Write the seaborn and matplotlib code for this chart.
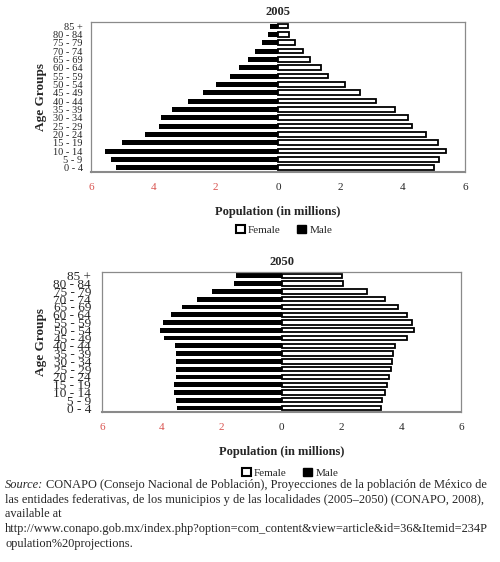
import numpy as np
import matplotlib
matplotlib.use("Agg")
import matplotlib.pyplot as plt
from matplotlib.patches import Patch
import seaborn as sns
import pandas as pd

# age groups, top of the pyramid first
age_groups = ["85 +", "80 - 84", "75 - 79", "70 - 74", "65 - 69", "60 - 64", "55 - 59",
              "50 - 54", "45 - 49", "40 - 44", "35 - 39", "30 - 34", "25 - 29",
              "20 - 24", "15 - 19", "10 - 14", "5 - 9", "0 - 4"]

male_2005 = [0.27, 0.32, 0.51, 0.73, 0.95, 1.25, 1.53, 1.98, 2.42, 2.89, 3.39, 3.76,
             3.82, 4.27, 5.00, 5.56, 5.35, 5.19]
female_2005 = [0.33, 0.36, 0.56, 0.80, 1.04, 1.38, 1.60, 2.14, 2.62, 3.14, 3.74, 4.18,
               4.30, 4.74, 5.13, 5.40, 5.17, 4.99]

male_2050 = [1.51, 1.59, 2.31, 2.84, 3.31, 3.71, 3.96, 4.07, 3.94, 3.57, 3.51, 3.51,
             3.51, 3.53, 3.59, 3.59, 3.51, 3.48]
female_2050 = [2.01, 2.04, 2.87, 3.46, 3.88, 4.18, 4.37, 4.44, 4.18, 3.81, 3.73, 3.69,
               3.65, 3.59, 3.53, 3.46, 3.36, 3.31]

xtick_vals = [-6, -4, -2, 0, 2, 4, 6]
xtick_labels = ["6", "4", "2", "0", "2", "4", "6"]

sns.set_theme(style="white")
plt.rcParams['font.family'] = ['Liberation Serif', 'DejaVu Serif']

red = "#d9534f"
spine_col = "#8a8a8a"

fig = plt.figure(figsize=(5, 5.62), dpi=100)
ax1 = fig.add_axes([0.182, 0.694, 0.748, 0.267])
ax2 = fig.add_axes([0.204, 0.267, 0.718, 0.249])


def pyramid(ax, male, female, title, ylab_size, ypad):
	df = pd.DataFrame({"age": age_groups, "male": -np.array(male), "female": female})
	sns.barplot(data=df, y="age", x="male", order=age_groups, orient="h", color="black",
				edgecolor="black", linewidth=0, width=0.62, ax=ax)
	sns.barplot(data=df, y="age", x="female", order=age_groups, orient="h", color="white",
				edgecolor="black", linewidth=1.3, width=0.56, ax=ax)
	ax.set_xlim(-6, 6)
	ax.set_ylim(len(age_groups) - 0.5, -0.5)
	ax.set_xticks(xtick_vals)
	ax.set_xticklabels(xtick_labels, fontsize=8)
	for lab, v in zip(ax.get_xticklabels(), xtick_vals):
		if v < 0:
			lab.set_color(red)
	ax.tick_params(axis="x", length=3, width=0.8, color=spine_col, direction="out", pad=5)
	ax.tick_params(axis="y", length=0, pad=ypad, labelsize=ylab_size)
	for s in ax.spines.values():
		s.set_visible(True)
		s.set_color(spine_col)
		s.set_linewidth(0.9)
	ax.spines["bottom"].set_linewidth(1.5)
	ax.set_ylabel("Age Groups", fontsize=9.5, fontweight="bold", labelpad=4)
	ax.set_xlabel("Population (in millions)", fontsize=9, fontweight="bold", labelpad=10)
	ax.set_title(title, fontsize=9, fontweight="bold", pad=5)
	ax.grid(False)


pyramid(ax1, male_2005, female_2005, "2005", 7.5, 6)
pyramid(ax2, male_2050, female_2050, "2050", 9.5, 8)

handles = [Patch(facecolor="white", edgecolor="black", linewidth=1.5, label="Female"),
		   Patch(facecolor="black", edgecolor="black", label="Male")]
for x, y in [(0.568, 1 - 230 / 562), (0.58, 1 - 473 / 562)]:
	fig.legend(handles=handles, loc="center", bbox_to_anchor=(x, y), ncol=2, frameon=False,
			   fontsize=8, handlelength=0.8, handleheight=0.8, handletextpad=0.3, columnspacing=1.5)

# source note
fs = 8.9
y0 = 1 - 485 / 562
dy = 14.7 / 562
r = fig.canvas.get_renderer()
t = fig.text(0.01, y0, "Source:", fontsize=fs, style="italic", va="center")
bb = t.get_window_extent(renderer=r)
fig.text(0.01 + (bb.width + 3) / 500, y0,
		 "CONAPO (Consejo Nacional de Población), Proyecciones de la población de México de",
		 fontsize=fs, va="center")
rest = ["las entidades federativas, de los municipios y de las localidades (2005\u20132050) (CONAPO, 2008),",
		"available at",
		"http://www.conapo.gob.mx/index.php?option=com_content&view=article&id=36&Itemid=234P",
		"opulation%20projections."]
for i, line in enumerate(rest):
	fig.text(0.01, y0 - (i + 1) * dy, line, fontsize=fs, va="center")

fig.savefig("out.png", dpi=100)
